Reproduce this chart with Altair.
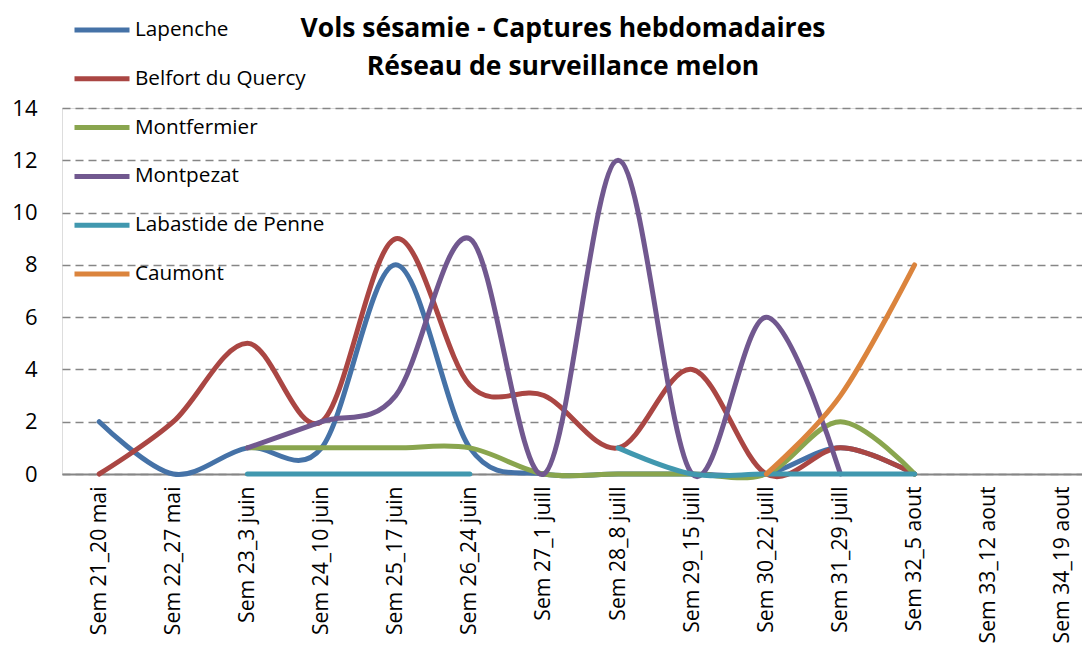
import altair as alt
import pandas as pd

weeks = ["Sem 21_20 mai", "Sem 22_27 mai", "Sem 23_3 juin", "Sem 24_10 juin",
         "Sem 25_17 juin", "Sem 26_24 juin", "Sem 27_1 juill", "Sem 28_8 juill",
         "Sem 29_15 juill", "Sem 30_22 juill", "Sem 31_29 juill", "Sem 32_5 aout",
         "Sem 33_12 aout", "Sem 34_19 aout"]

series_names = ["Lapenche", "Belfort du Quercy", "Montfermier", "Montpezat",
                "Labastide de Penne", "Caumont"]
series_colors = ["#4572A7", "#AA4643", "#89A54E", "#71588F", "#4198AF", "#DB843D"]

lapenche = [2, 0, 1, 1, 8, 1, 0, 0, 0, 0, 1, 0, None, None]
belfort = [0, 2, 5, 2, 9, 3.4, 3, 1, 4, 0, 1, 0, None, None]
montfermier = [None, None, 1, 1, 1, 1, 0, 0, 0, 0, 2, 0, None, None]
montpezat = [None, None, 1, 2, 3, 9, 0, 12, 0, 6, 0, None, None, None]
labastide = [None, None, 0, 0, 0, 0, None, 1, 0, 0, 0, 0, None, None]
caumont = [None, None, None, None, None, None, None, None, None, 0, 3, 8, None, None]

all_values = [lapenche, belfort, montfermier, montpezat, labastide, caumont]

rows = []
for name, vals in zip(series_names, all_values):
    seg = 0
    prev_none = True
    for w, v in zip(weeks, vals):
        if v is None:
            prev_none = True
            continue
        if prev_none:
            seg += 1
            prev_none = False
        rows.append({"week": w, "value": v, "series": name, "seg": f"{name}-{seg}"})
df = pd.DataFrame(rows)

FONT = "Open Sans"

color = alt.Color(
    "series:N",
    scale=alt.Scale(domain=series_names, range=series_colors),
    legend=alt.Legend(
        orient="none", legendX=10, legendY=-108, title=None,
        symbolType="stroke", symbolSize=3025, symbolStrokeWidth=5,
        labelFont=FONT, labelFontSize=20.7, labelColor="black",
        rowPadding=8.8, labelOffset=3, labelLimit=400,
    ),
)

x = alt.X(
    "week:N", sort=weeks,
    scale=alt.Scale(domain=weeks, type="point", padding=0.38, align=0.66),
    axis=alt.Axis(title=None, labelAngle=-90, labelAlign="right", labelBaseline="middle",
                  labelFont=FONT, labelFontSize=21.2, labelColor="black", labelPadding=12,
                  ticks=False, domainColor="#868686", domainWidth=2, grid=False),
)
y = alt.Y(
    "value:Q",
    scale=alt.Scale(domain=[0, 14], nice=False),
    axis=alt.Axis(title=None, values=list(range(0, 15, 2)), labelFont=FONT, labelFontSize=22,
                  labelColor="black", labelPadding=25, ticks=False, domain=False,
                  grid=True, gridColor="#868686", gridDash=[8, 5], gridWidth=1.5),
)

layers = []
for name in series_names:
    layers.append(
        alt.Chart(df).transform_filter(alt.datum.series == name)
        .mark_line(interpolate="cardinal", tension=0, strokeWidth=5, strokeCap="round",
                   strokeJoin="round")
        .encode(x=x, y=y, color=color, detail="seg:N")
    )

chart = alt.layer(*layers).properties(
    width=1020, height=366,
    title=alt.TitleParams(
        ["Vols sésamie - Captures hebdomadaires", "Réseau de surveillance melon"],
        font=FONT, fontSize=26.5, fontWeight="bold", color="black", lineHeight=38,
        anchor="middle", dx=-9, offset=-80,
    ),
    autosize=alt.AutoSizeParams(type="none"),
    padding={"left": 54, "top": 100, "right": 0, "bottom": 172},
).configure_view(stroke=None).configure(background="white")

chart.save("out.html", embed_options={"renderer": "svg", "actions": False})
